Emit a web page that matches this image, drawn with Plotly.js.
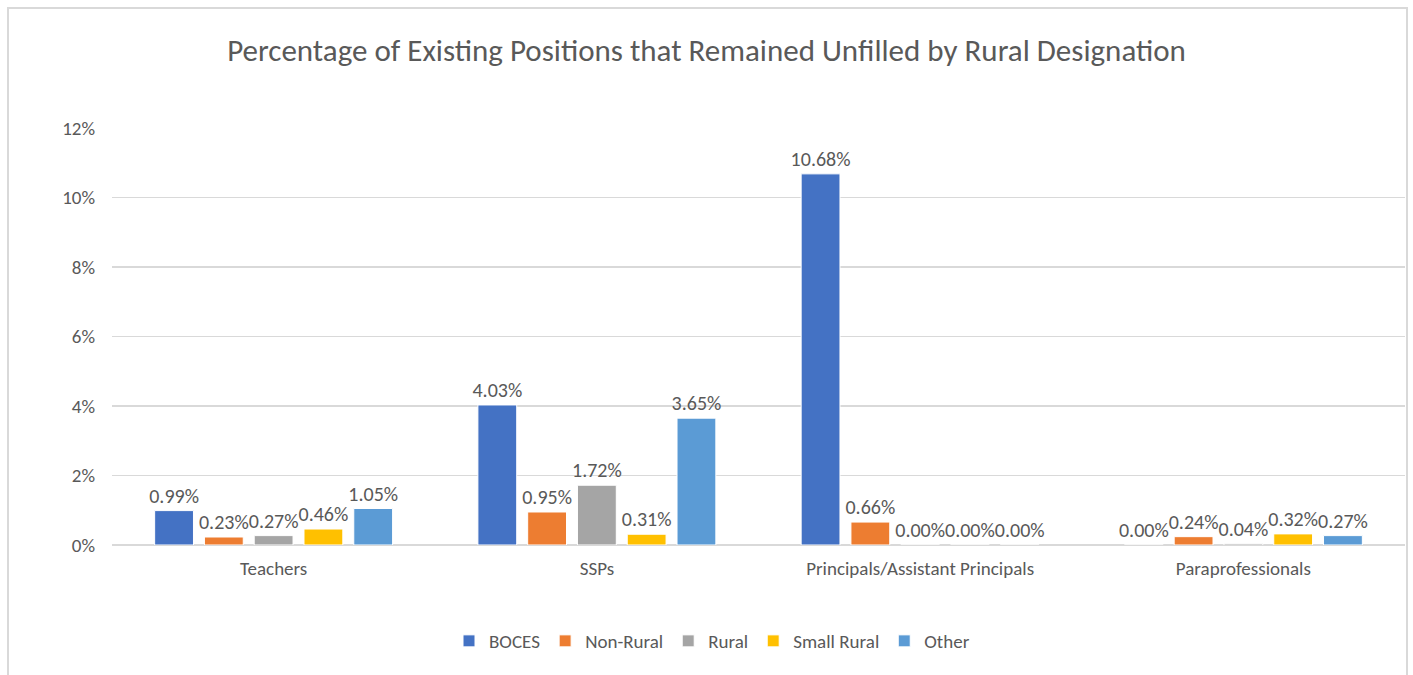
<!DOCTYPE html>
<html>
<head>
<meta charset="utf-8">
<script src="https://cdn.plot.ly/plotly-3.0.1.min.js"></script>
<style>html,body{margin:0;padding:0;background:#fff;}#chart{width:1413px;height:675px;}</style>
</head>
<body>
<div id="chart"></div>
<script>
const categories = ["Teachers", "SSPs", "Principals/Assistant Principals", "Paraprofessionals"];
const seriesNames = ["BOCES", "Non-Rural", "Rural", "Small Rural", "Other"];
const boces = [0.99, 4.03, 10.68, 0.00];
const nonRural = [0.23, 0.95, 0.66, 0.24];
const rural = [0.27, 1.72, 0.00, 0.04];
const smallRural = [0.46, 0.31, 0.00, 0.32];
const other = [1.05, 3.65, 0.00, 0.27];
const colors = ["#4472C4", "#ED7D31", "#A5A5A5", "#FFC000", "#5B9BD5"];
const yTicks = [0, 2, 4, 6, 8, 10, 12];

const FONT = "Carlito, Calibri, 'Liberation Sans Narrow', 'Liberation Sans', sans-serif";
const allSeries = [boces, nonRural, rural, smallRural, other];

const traces = allSeries.map((vals, i) => ({
  type: "bar",
  name: seriesNames[i],
  x: categories,
  y: vals,
  marker: { color: colors[i], line: { color: "#ffffff", width: 1 } },
  text: vals.map(v => v.toFixed(2) + "%"),
  textposition: "outside",
  textfont: { family: FONT, size: 20, color: "#595959" },
  constraintext: "none",
  cliponaxis: false,
  hoverinfo: "skip"
}));

const plotL = 112, plotR = 1405, plotT = 128, plotB = 545;
const pw = plotR - plotL, ph = plotB - plotT;

const layout = {
  width: 1413, height: 675,
  margin: { l: plotL, r: 1413 - plotR, t: plotT, b: 675 - plotB },
  paper_bgcolor: "#ffffff",
  plot_bgcolor: "#ffffff",
  font: { family: FONT, color: "#595959" },
  title: {
    text: "Percentage of Existing Positions that Remained Unfilled by Rural Designation",
    font: { family: FONT, size: 31, color: "#595959" },
    x: 0.5, xref: "container", xanchor: "center",
    y: 1 - 50 / 675, yref: "container", yanchor: "middle"
  },
  barmode: "group",
  bargap: 0.23,
  bargroupgap: 0.22,
  xaxis: {
    type: "category",
    tickfont: { family: FONT, size: 19, color: "#595959" },
    showline: false, ticks: "", showgrid: false, zeroline: false,
    ticklabelstandoff: 10
  },
  yaxis: {
    range: [0, 12],
    tickvals: yTicks,
    ticktext: yTicks.map(v => v + "%"),
    tickfont: { family: FONT, size: 19, color: "#595959" },
    showgrid: true, gridcolor: "#d9d9d9", gridwidth: 1.5,
    zeroline: true, zerolinecolor: "#d9d9d9", zerolinewidth: 1.5,
    showline: false, ticks: "", ticklabelstandoff: 16
  },
  legend: {
    orientation: "h",
    x: (712 - plotL) / pw, xanchor: "center",
    y: -(641 - plotB) / ph, yanchor: "middle",
    font: { family: FONT, size: 19, color: "#595959" },
    itemwidth: 30,
    traceorder: "normal"
  },
  shapes: [{
    type: "rect", xref: "paper", yref: "paper",
    x0: (8 - plotL) / pw, x1: (1407 - plotL) / pw,
    y0: -(700 - plotB) / ph, y1: 1 + (plotT - 8) / ph,
    line: { color: "#d9d9d9", width: 2 },
    fillcolor: "rgba(0,0,0,0)",
    layer: "below"
  }],
  showlegend: true
};

Plotly.newPlot("chart", traces, layout, { displayModeBar: false, staticPlot: true });
</script>
</body>
</html>
